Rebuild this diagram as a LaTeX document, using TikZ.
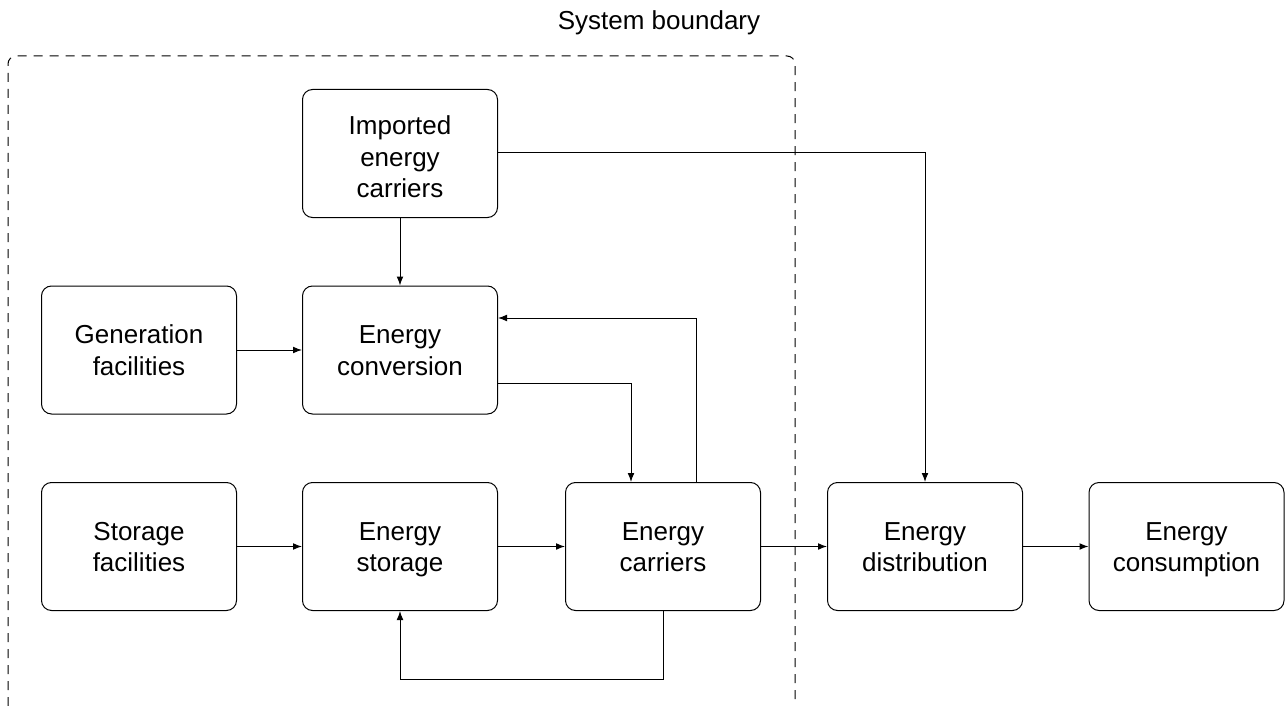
\documentclass[tikz,border=0pt]{standalone}
\usepackage{fontspec}
\setmainfont{Liberation Sans}
\usetikzlibrary{arrows.meta}
% block text with fixed first-line height and last-line depth
\newcommand{\blk}[1]{\rule{0pt}{12.8pt}#1\rule[-3.2pt]{0pt}{3.2pt}}
\newcommand{\blkhi}[1]{\rule{0pt}{14.3pt}#1\rule[-1.7pt]{0pt}{1.7pt}}
\begin{document}
\begin{tikzpicture}[x=0.5pt,y=-0.5pt,
  blockbox/.style={draw, rounded corners=5pt, line width=0.5pt,
    minimum width=97.5pt, minimum height=64pt, align=center,
    font=\fontsize{13}{15.8}\selectfont, inner sep=2pt},
  flow/.style={-{Latex[length=4.5pt,width=3.4pt]}, line width=0.5pt},
  boundary/.style={dash pattern=on 4.5pt off 3.5pt, line width=0.5pt}]
\useasboundingbox (0,0) rectangle (1285,706);

% blocks
\node[blockbox] (imp) at (400,153.5) {\blkhi{Imported\\energy\\carriers}};
\node[blockbox] (gen) at (139,350) {\blk{Generation\\facilities}};
\node[blockbox] (conv) at (400,350) {\blk{Energy\\conversion}};
\node[blockbox] (sfac) at (139,546.5) {\blk{Storage\\facilities}};
\node[blockbox] (stor) at (400,546.5) {\blk{Energy\\storage}};
\node[blockbox] (carr) at (663,546.5) {\blk{Energy\\carriers}};
\node[blockbox] (dist) at (925,546.5) {\blk{Energy\\distribution}};
\node[blockbox] (cons) at (1186.5,546.5) {\blk{Energy\\consumption}};

% system boundary (open at the bottom)
\coordinate (bl) at (8,706);
\coordinate (br) at (795,706);
\draw[boundary, rounded corners=4pt] (bl) -- (8,56) -- (795,56) -- (br);
\node[font=\fontsize{13}{16}\selectfont] (sb) at (659,23) {System boundary};

% connectors
\draw[flow] (imp) -- (conv);
\draw[flow] (imp.east |- 0,153) -| (dist.north);
\draw[flow] (gen) -- (conv);
\draw[flow] (conv.east |- 0,383) -| (carr.north -| 631,0);
\draw[flow] (carr.north -| 696,0) |- (conv.east |- 0,318);
\draw[flow] (sfac) -- (stor);
\draw[flow] (stor) -- (carr);
\draw[flow] (carr) -- (dist);
\draw[flow] (dist) -- (cons);
\draw[flow] (carr.south) -- (663,679) -| (stor.south);
\end{tikzpicture}
\end{document}
